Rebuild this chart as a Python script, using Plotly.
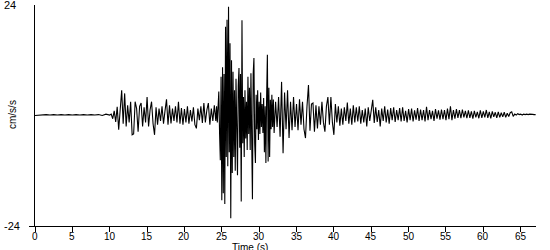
import numpy as np
import plotly.graph_objects as go

# ---- data (cm/s/s) ----
pre_start, pre_dt = 0.0, 0.5
pre_vals = [0.0, 0.1, 0.1, 0.2, 0.1, 0.2, 0.1, 0.2, 0.1, 0.2, 0.1,
            0.2, 0.1, 0.2, 0.1, 0.2, 0.1, 0.2, 0.0, 0.3, 0.1]

early_start, early_dt = 10.2, 0.2
early_vals = [
    0.3, -0.7, 1.0, -1.4, 1.9, -3.1, 1.5, 5.5, -1.8, 4.8,
    -2.4, 2.2, -1.5, 3.0, -4.2, -4.0, 3.0, 1.5, -3.5, 2.0,
    2.7, -2.4, 1.8, -1.5, 4.0, -2.4, 1.2, 3.0, -1.8, -4.2,
    1.8, -2.0, 1.5, -1.2, 2.0, -1.8, 1.0, 3.5, -2.0, 2.2,
    -1.7, 1.5, -1.2, 2.0, -1.5, 3.0, -1.8, 1.6, -2.0, 1.4,
    -1.5, 2.0, -1.8, 1.2, -1.3, 1.8, -2.0, -2.8, 1.5, -1.0,
    2.0, -1.6, 2.7, -1.5, 1.2, 2.7, -2.0, 1.5, -1.2, 2.2,
]

strong_start, strong_dt = 24.2, 0.1
strong_vals = [
    -1.2, 2.0, -1.5, 2.3, 5.2, -3.8, -9.7, 8.4, -18.4, 10.5,
    -16.9, 9.0, -19.2, 19.3, -9.0, 20.8, -11.0, 23.6, -8.0, 15.7,
    -22.3, 12.0, -12.5, 9.5, -9.0, 5.5, -12.0, 8.0, -6.0, -13.0,
    6.5, 10.3, -7.0, 9.0, -18.7, 20.7, -6.0, 4.0, -9.0, 5.5,
    -5.0, 3.0, -7.5, 8.4, -4.0, 6.0, -7.5, 9.2, -5.0, -18.2,
    9.0, 12.5, -6.0, -10.3, 4.5, -3.0, 5.5, -5.3, 3.0, -4.0,
    5.0, -2.5, 2.5, -3.8, 3.8, -8.0, 2.0, -10.3, 4.0, 13.2,
    -10.0, 6.0, -9.0, 3.4, -3.0, 4.5, -2.5, 3.5, -3.8, 2.0,
]

coda_start, coda_dt = 32.2, 0.2
coda_vals = [
    3.0, -2.5, 4.0, -4.6, 7.3, -8.2, 5.0, -3.0, 5.5, -4.9,
    3.0, -3.2, 4.0, -2.5, 2.5, -3.2, 3.5, -2.0, 3.0, -3.0,
    -4.9, 2.0, 6.6, -3.3, 2.5, 2.7, -3.5, 2.2, -2.8, 2.0,
    -2.0, 3.0, -1.5, -3.5, 2.0, 4.0, -2.0, 4.0, -1.5, -4.2,
    2.5, -1.5, 2.0, -2.2, 1.5, -2.0, 1.8, -1.2, 2.8, -1.8,
    1.5, -2.0, 2.2, -1.5, 1.8, -1.3, 2.0, -1.8, 1.2, -1.5,
    1.5, -2.4, 1.8, -1.2, 1.4, 3.4, -1.6, 1.8, -1.4, 1.2,
    -2.4, 1.5, -1.2, 2.0, -1.5, 1.3, -1.8, 1.6, -1.0, 1.8,
    -1.4, 1.2, -1.0, 1.6, -1.3, 1.8, -1.2, 1.0, -1.5, 1.4,
    -1.0, 1.5, -1.3, 1.1, -0.9, 1.6, -1.2, 1.3, -1.0, 1.2,
    -1.3, 1.9, -1.0, 1.2, -0.8, 1.0, -1.2, 1.4, -0.7, 1.1,
    -0.9, 1.3, -0.8, 1.2, -1.0, 1.5, -0.8, 2.0, -1.0, 1.2,
    -0.7, 1.4, -0.5, 1.2, -0.6, 1.3, -0.4, 1.0, -0.6, 1.1,
    -0.5, 0.9, -0.7, 1.0, -0.4, 0.8, -0.6, 1.1, -0.5, 0.9,
    -0.4, 1.2, -0.5, 0.8, -0.6, 0.9, -0.3, 0.7, -0.5, 0.8,
    -0.4, 0.6, -0.3, 0.7, -0.4, 0.5, -0.2, 0.6, 0.8, -0.2,
    0.3, 0.1, 0.4, 0.2, 0.3, 0.1, 0.3, 0.2, 0.3, 0.2,
    0.3, 0.2, 0.25, 0.2, 0.2,
]

x_ticks = [0, 5, 10, 15, 20, 25, 30, 35, 40, 45, 50, 55, 60, 65]
x_tick_labels = [str(v) for v in x_ticks]
y_labels = ["24", "-24"]
y_label_vals = [24, -24]

# ---- assemble sample times ----
segments = [(pre_start, pre_dt, pre_vals), (early_start, early_dt, early_vals),
            (strong_start, strong_dt, strong_vals), (coda_start, coda_dt, coda_vals)]
t, a = [], []
for s0, dt, vals in segments:
    t.extend(s0 + dt * np.arange(len(vals)))
    a.extend(vals)

FONT = "Liberation Sans"
W, H = 550, 250
L, R, T, B = 35, 14, 5, 24
pw, ph = W - L - R, H - T - B

def px_x(p):
    return (p - L) / pw

def px_y(p):
    return (H - B - p) / ph

fig = go.Figure()
fig.add_trace(go.Scatter(x=t, y=a, mode="lines",
                         line=dict(color="black", width=1.1), hoverinfo="skip"))

annotations = []
for lab, v in zip(y_labels, y_label_vals):
    annotations.append(dict(text=lab, xref="paper", yref="y", x=px_x(2), y=v,
                            xanchor="left", yanchor="middle", showarrow=False,
                            font=dict(family=FONT, size=11, color="black")))
for lab, v in zip(x_tick_labels, x_ticks):
    annotations.append(dict(text=lab, xref="x", yref="paper", x=v, y=px_y(229),
                            xanchor="center", yanchor="top", showarrow=False,
                            font=dict(family=FONT, size=10, color="black")))
annotations.append(dict(text="cm/s/s", xref="paper", yref="paper", x=px_x(12),
                        y=px_y(115), textangle=-90, showarrow=False,
                        xanchor="center", yanchor="middle",
                        font=dict(family=FONT, size=10, color="black")))
annotations.append(dict(text="Time (s)", xref="paper", yref="paper", x=px_x(250),
                        y=px_y(239.5), showarrow=False, xanchor="center", yanchor="top",
                        font=dict(family=FONT, size=10, color="black")))

fig.update_layout(
    width=W, height=H,
    margin=dict(l=L, r=R, t=T, b=B, pad=0),
    paper_bgcolor="white", plot_bgcolor="white",
    showlegend=False,
    font=dict(family=FONT, size=11, color="black"),
    xaxis=dict(range=[0, 67.05], tickvals=x_ticks, ticks="outside", ticklen=5,
               tickcolor="black", tickwidth=1, showticklabels=False,
               showline=True, linecolor="black",
               linewidth=1, showgrid=False, zeroline=False),
    yaxis=dict(range=[-24, 24], tickvals=[-24], ticks="outside", ticklen=5,
               tickcolor="black", tickwidth=1, showticklabels=False,
               showline=True, linecolor="black", linewidth=1, showgrid=False,
               zeroline=False),
    annotations=annotations,
)

fig.write_html("out.html")
